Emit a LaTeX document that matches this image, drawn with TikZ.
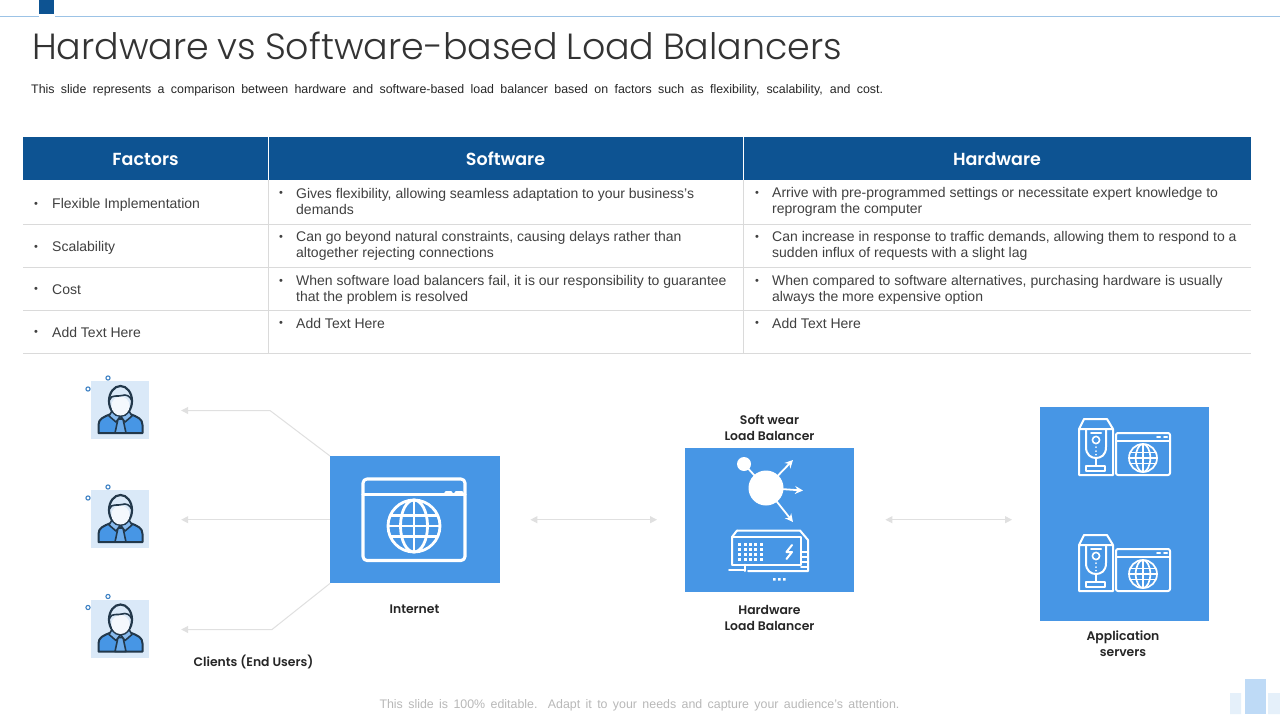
\documentclass[tikz,border=0pt]{standalone}
\usepackage{fontspec}
\setmainfont{Liberation Sans}
\newfontfamily\ttlfont[UprightFont=* Light]{Poppins}
\newfontfamily\lblfont[UprightFont=* SemiBold]{Poppins}
\usetikzlibrary{arrows.meta}
\definecolor{navy}{HTML}{0D5392}
\definecolor{boxblue}{HTML}{4796E5}
\definecolor{palebg}{HTML}{DAE9F8}
\definecolor{topline}{HTML}{9CC3E6}
\definecolor{rowline}{HTML}{DADADA}
\definecolor{conn}{HTML}{E0E0E0}
\definecolor{bodytxt}{HTML}{404040}
\definecolor{inkdark}{HTML}{22384B}
\tikzset{
  hdr/.style={fill=navy,text=white,inner sep=0pt,minimum height=43pt,text height=17pt,text depth=3pt,font=\lblfont\fontsize{17.5}{20}\selectfont},
  cell/.style={anchor=west,align=left,inner sep=0pt,text=bodytxt,font=\fontsize{14}{16}\selectfont},
  bul/.style={inner sep=0pt,text=bodytxt,font=\fontsize{11}{12}\selectfont},
  lbl/.style={inner sep=0pt,align=center,text=black!85,font=\lblfont\fontsize{12.4}{16}\selectfont},
  bluebox/.style={fill=boxblue,draw=none,inner sep=0pt,anchor=north west},
  wline/.style={draw=white,line width=2pt,line cap=round,line join=round},
  wthick/.style={draw=white,line width=3.1pt,line cap=round,line join=round},
  arrowline/.style={draw=conn,line width=1pt,-{Triangle[length=7pt,width=7pt,fill=conn]}},
  dblarrow/.style={draw=conn,line width=1pt,{Triangle[length=7pt,width=7pt,fill=conn]}-{Triangle[length=7pt,width=7pt,fill=conn]}},
  pics/globe/.style={code={
    \draw[draw=white,line width=#1] (0,0) circle[radius=1];
    \draw[draw=white,line width=#1] (0,0) ellipse[x radius=.52,y radius=1];
    \draw[draw=white,line width=#1] (0,-1) -- (0,1) (-1,0) -- (1,0) (-.92,-.39) -- (.92,-.39) (-.92,.39) -- (.92,.39);
  }},
  pics/personicon/.style={code={
    \fill[palebg] (0,0) rectangle (58,58);
    \draw[boxblue!85!black,line width=1.1pt] (17,-3) circle[radius=2.1] (-3,8) circle[radius=2.1];
    \draw[inkdark,line width=2pt,fill=boxblue,line join=round] (7.5,52) -- (7.5,44) .. controls (7.5,38) and (12,36) .. (20,33) -- (39,33) .. controls (47,36) and (51.5,38) .. (51.5,44) -- (51.5,52) -- cycle;
    \draw[inkdark,line width=1.6pt,fill=boxblue!80!white,line join=round] (27,38) -- (32,38) -- (35,52) -- (24,52) -- cycle;
    \draw[inkdark,line width=1.6pt,fill=boxblue!55!palebg,line join=round] (21,30) -- (18,35) -- (25,41) -- (29.5,35) -- (34,41) -- (41,35) -- (38,30);
    \draw[inkdark,line width=2.2pt,fill=palebg] (29.5,20) ellipse[x radius=11.5,y radius=15];
    \fill[white!70!palebg] (29.5,25) ellipse[x radius=9,y radius=9.5];
    \draw[inkdark,line width=1.6pt] (18.5,19) .. controls (20,13) and (27,16) .. (31,14.5) .. controls (35,13) and (39,15) .. (40.5,19);
  }},
  pics/servericon/.style={code={
    \draw[wline] (5,0) -- (28,0) -- (34,10) -- (34,56) -- (0,56) -- (0,10) -- cycle (0,10) -- (34,10);
    \draw[wline] (7,10) -- (7,28) .. controls (7,36) and (12,39) .. (17,39) .. controls (22,39) and (27,36) .. (27,28) -- (27,10);
    \draw[wline] (12,13.5) -- (22,13.5) (17,39) -- (17,46);
    \draw[wline,line width=1.6pt] (17,21) circle[radius=3.6];
    \draw[wline,line width=1.4pt] (17,28) -- (17,28.3) (17,32) -- (17,32.3) (17,35.5) -- (17,35.8);
    \draw[wline] (7,47) rectangle (26,52);
    \draw[wline,rounded corners=2pt] (37,14) rectangle (91,56);
    \draw[wline] (37,21.5) -- (91,21.5) (78,18) -- (81,18) (85,18) -- (88,18);
    \pic[scale=14] at (64,39) {globe=1.7pt};
  }},
}
\newcommand{\cellone}[5]{\node[cell] (#1) at (#2,#3) {#4}; \node[bul] (#1b) at (#5,#3) {•};}
\newcommand{\celltwo}[5]{\node[cell] (#1) at (#2,#3) {#4}; \node[bul] (#1b) at (#5,#3-8) {•};}
\begin{document}
\begin{tikzpicture}[x=1pt,y=-1pt]
\useasboundingbox (0,0) rectangle (1280,720);
\fill[white] (0,0) rectangle (1280,720);
% top rule
\draw[topline,line width=1.2pt] (0,16.5) -- (39,16.5) (55,16.5) -- (1280,16.5);
\fill[navy] (39,0) rectangle (54,14);
% title
\node[anchor=west,inner sep=0pt,text=black!80] (title) at (32,46) {\ttlfont\fontsize{36.4}{40}\selectfont\makebox[810pt][s]{Hardware vs Software-based Load Balancers}};
\node[anchor=west,inner sep=0pt,text=black!85] (subtitle) at (31,90) {\fontsize{12.4}{14}\selectfont\makebox[852pt][s]{This slide represents a comparison between hardware and software-based load balancer based on factors such as flexibility, scalability, and cost.}};
% table header
\node[hdr,minimum width=245pt] (h1) at (145.5,158.5) {Factors};
\node[hdr,minimum width=475pt] (h2) at (505.5,158.5) {Software};
\node[hdr,minimum width=508pt] (h3) at (997,158.5) {Hardware};
\draw[white,line width=.8pt] (h1.north east) -- (h1.south east) (h2.north east) -- (h2.south east);
% grid
\draw[rowline,line width=1pt] (23,224) -- (1251,224) (23,267) -- (1251,267) (23,310.5) -- (1251,310.5) (23,353.5) -- (1251,353.5);
\draw[rowline,line width=1pt] (268,180) -- (268,353.5) (743,180) -- (743,353.5);
% table text
\cellone{a1}{52}{204.5}{Flexible Implementation}{36}
\cellone{a2}{52}{247.5}{Scalability}{36}
\cellone{a3}{52}{290}{Cost}{36}
\cellone{a4}{52}{332.5}{Add Text Here}{36}
\celltwo{b1}{296}{201.5}{Gives flexibility, allowing seamless adaptation to your business's\\demands}{281}
\celltwo{b2}{296}{245.5}{Can go beyond natural constraints, causing delays rather than\\altogether rejecting connections}{281}
\celltwo{b3}{296}{289.5}{When software load balancers fail, it is our responsibility to guarantee\\that the problem is resolved}{281}
\cellone{b4}{296}{323.5}{Add Text Here}{281}
\celltwo{c1}{772}{202}{Arrive with pre-programmed settings or necessitate expert knowledge to\\reprogram the computer}{757}
\celltwo{c2}{772}{245.5}{Can increase in response to traffic demands, allowing them to respond to a\\sudden influx of requests with a slight lag}{757}
\celltwo{c3}{772}{289.5}{When compared to software alternatives, purchasing hardware is usually\\always the more expensive option}{757}
\cellone{c4}{772}{323.5}{Add Text Here}{757}
% clients
\node[inner sep=0pt,minimum width=58pt,minimum height=58pt] (u1) at (120,410) {};
\node[inner sep=0pt,minimum width=58pt,minimum height=58pt] (u2) at (120,519) {};
\node[inner sep=0pt,minimum width=58pt,minimum height=58pt] (u3) at (120,628.5) {};
\pic at (91,381) {personicon};
\pic at (91,490) {personicon};
\pic at (91,599.5) {personicon};
% blue boxes
\node[bluebox,minimum width=170pt,minimum height=127pt] (inet) at (330,456) {};
\node[bluebox,minimum width=169pt,minimum height=144pt] (lb) at (685,448) {};
\node[bluebox,minimum width=169pt,minimum height=214pt] (app) at (1040,407) {};
% connectors
\coordinate (k1) at (270,410.5);
\coordinate (k3) at (272,629.5);
\draw[arrowline,shorten >=32pt] (inet.north west) -- (k1) -- (u1.east |- k1);
\draw[arrowline,shorten >=32pt] (inet.west) -- (u2.east |- inet.west);
\draw[arrowline,shorten >=32pt] (inet.south west) -- (k3) -- (u3.east |- k3);
\draw[dblarrow,shorten <=30pt,shorten >=28pt] (inet.east) -- (inet.east -| lb.west);
\draw[dblarrow,shorten <=31pt,shorten >=28pt] (lb.east |- inet.east) -- (app.west |- inet.east);
% internet icon
\draw[wthick,rounded corners=4pt] (363,479) rectangle (465,560.5);
\draw[wthick] (363,494.5) -- (465,494.5);
\draw[wthick] (446,492.5) -- (451,492.5);
\draw[wthick] (456,492.5) -- (462,492.5);
\pic[scale=26] at (414,526) {globe=2.8pt};
% load balancer icon
\fill[white] (766,488) circle[radius=17.5];
\fill[white] (744,464) circle[radius=7];
\draw[white,line width=1.8pt] (744,464) -- (766,488);
\draw[white,line width=1.8pt,-{Stealth[length=8pt,width=8pt]}] (766,488) -- (793,460);
\draw[white,line width=1.8pt,-{Stealth[length=8pt,width=8pt]}] (766,488) -- (803,490.5);
\draw[white,line width=1.8pt,-{Stealth[length=8pt,width=8pt]}] (766,488) -- (793,522);
\draw[wline] (737,530.5) -- (800,530.5) -- (808,540) -- (808,571) -- (748,571);
\draw[wline] (732,564.5) -- (732,537) -- (737,530.5);
\draw[wline] (732,537) -- (801,537) -- (801,564.5) -- (732,564.5);
\draw[wline] (729,570) -- (745,570) (745,564.5) -- (745,571);
\draw[wline] (801,552) -- (808,552) (801,557) -- (808,557) (801,562) -- (808,562) (801,567) -- (808,567);
\foreach \i in {0,...,4}{\foreach \j in {0,...,3}{\fill[white] (738.2+\i*5.4,542.5+\j*5.3) rectangle +(3,3);}}
\draw[wline] (792,545) -- (786.5,552) -- (792,552) -- (786.5,559);
\fill[white] (773,578) rectangle +(2.6,2.6) (778,578) rectangle +(2.6,2.6) (783,578) rectangle +(2.6,2.6);
% server icons
\pic at (1079,419) {servericon};
\pic at (1079,535) {servericon};
% labels
\node[lbl] (lsw) at (769.5,427.5) {Soft wear\\Load Balancer};
\node[lbl] (lhw) at (769.5,617.5) {Hardware\\Load Balancer};
\node[lbl] (lin) at (414.5,609) {Internet};
\node[lbl] (lcl) at (253.5,662) {Clients (End Users)};
\node[lbl] (lap) at (1123,643.5) {Application\\servers};
% footer
\node[inner sep=0pt,text=black!28] (foot) at (639.5,705) {\fontsize{12.4}{14}\selectfont\makebox[520pt][s]{This slide is 100\% editable. Adapt it to your needs and capture your audience's attention.}};
% corner mark
\fill[palebg!70!white] (1230,693) rectangle (1241,714) (1268,693) rectangle (1280,714);
\fill[boxblue!35!white] (1245,679) rectangle (1266,714);
\end{tikzpicture}
\end{document}
